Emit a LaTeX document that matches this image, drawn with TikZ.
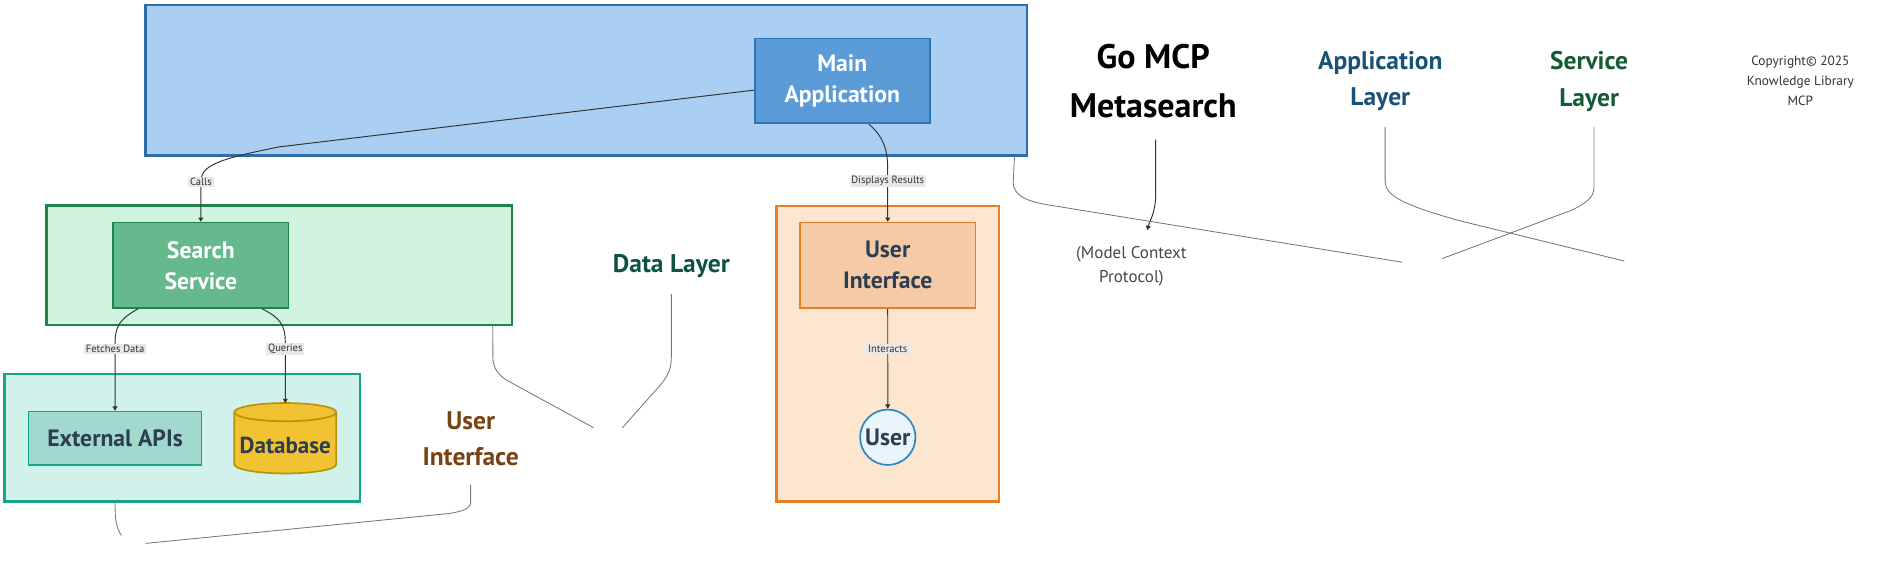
\documentclass[tikz,border=0pt]{standalone}
\usepackage{fontspec}
\setmainfont{PT Sans}
\usetikzlibrary{arrows.meta}

\definecolor{appfill}{HTML}{AACFF3}
\definecolor{appline}{HTML}{2E6DA8}
\definecolor{mainfill}{HTML}{5B9BD8}
\definecolor{mainline}{HTML}{2E75B6}
\definecolor{srvfill}{HTML}{D2F3E0}
\definecolor{srvline}{HTML}{1E8449}
\definecolor{srvnode}{HTML}{66B98C}
\definecolor{datfill}{HTML}{D1F2EB}
\definecolor{datline}{HTML}{17A589}
\definecolor{extfill}{HTML}{A2D9CE}
\definecolor{dbfill}{HTML}{F1C232}
\definecolor{dbline}{HTML}{B7950B}
\definecolor{uifill}{HTML}{FCE6CF}
\definecolor{uiline}{HTML}{E67E22}
\definecolor{uinode}{HTML}{F5CBA7}
\definecolor{userfill}{HTML}{EAF4FC}
\definecolor{userline}{HTML}{2E86C1}
\definecolor{darktext}{HTML}{2C3E50}
\definecolor{applabel}{HTML}{1A5276}
\definecolor{srvlabel}{HTML}{145A32}
\definecolor{datlabel}{HTML}{0B5345}
\definecolor{uilabel}{HTML}{784212}
\definecolor{edgeline}{HTML}{333333}
\definecolor{ghostline}{HTML}{777777}
\definecolor{labelbg}{HTML}{E8E8E8}

\begin{document}
\begin{tikzpicture}[x=1pt,y=-1pt,
  group/.style={draw, line width=1.9pt, inner sep=0pt},
  block/.style={draw, line width=1.4pt, inner sep=0pt, align=center,
    font=\fontsize{19.5}{25.5}\selectfont\bfseries},
  title/.style={align=center, font=\fontsize{21}{30}\selectfont\bfseries},
  edge/.style={draw=edgeline, line width=0.8pt, -{Triangle[length=3.5pt,width=4pt]}},
  ghost/.style={draw=ghostline, line width=0.7pt},
  elab/.style={fill=labelbg, text=edgeline, inner xsep=1.5pt, inner ysep=1pt,
    font=\fontsize{8.7}{10}\selectfont}]
\useasboundingbox (0,0) rectangle (1568.4,464.6);

% subgraph boxes
\node[group, fill=appfill, draw=appline, minimum width=726pt, minimum height=124pt] (app) at (482.75,66.15) {};
\node[group, fill=srvfill, draw=srvline, minimum width=383.4pt, minimum height=98.3pt] (srv) at (229.9,218.55) {};
\node[group, fill=datfill, draw=datline, minimum width=292.7pt, minimum height=105pt] (dat) at (150.15,360.5) {};
\node[group, fill=uifill, draw=uiline, minimum width=183.5pt, minimum height=243.3pt] (uibox) at (731.25,291.35) {};

% nodes
\node[block, fill=mainfill, draw=mainline, text=white, minimum width=144pt, minimum height=70pt] (main) at (693.8,66.6) {Main\\Application};
\node[block, fill=srvnode, draw=srvline, text=white, minimum width=144.5pt, minimum height=70.3pt] (search) at (165.45,218.55) {Search\\Service};
\node[block, fill=extfill, draw=datline, text=darktext, minimum width=142.5pt, minimum height=44pt] (ext) at (94.75,361) {External APIs};
\node[block, fill=uinode, draw=uiline, text=darktext, minimum width=144.5pt, minimum height=70.3pt] (ui) at (731.25,218.55) {User\\Interface};
\node[block, circle, fill=userfill, draw=userline, text=darktext, minimum size=45.6pt] (user) at (731.3,360.2) {User};

% database
\draw[fill=dbfill, draw=dbline, line width=1.4pt] (193,339.5) -- (193,382.5) arc[start angle=180, end angle=0, x radius=42, y radius=7.5] -- (277,339.5) arc[start angle=0, end angle=-180, x radius=42, y radius=7.5] -- cycle;
\draw[draw=dbline, line width=1.4pt] (193,339.5) arc[start angle=180, end angle=0, x radius=42, y radius=7.5];
\node[font=\fontsize{19}{24}\selectfont\bfseries, text=darktext] (db) at (235,366.6) {Database};
\coordinate (dbtop) at (235,332);

% titles
\node[title, font=\fontsize{28}{39.8}\selectfont\bfseries] (gomcp) at (950,66.8) {Go MCP\\Metasearch};
\node[title, text=applabel] (applayer) at (1137,67) {Application\\Layer};
\node[title, text=srvlabel] (srvlayer) at (1309,67) {Service\\Layer};
\node[title, text=datlabel] (datlayer) at (553,219) {Data Layer};
\node[title, text=uilabel, font=\fontsize{21}{29.4}\selectfont\bfseries] (uilayer) at (387.7,361.5) {User\\Interface};
\node[align=center, text=edgeline, font=\fontsize{11}{16.6}\selectfont] (copy) at (1483,66.6) {Copyright© 2025\\Knowledge Library\\MCP};
\node[align=center, text=edgeline!90, font=\fontsize{14}{19.8}\selectfont] (mcp) at (932,219) {(Model Context\\Protocol)};

% loose ends
\coordinate (append) at (1155,216);
\coordinate (gomcptop) at (952,115);
\coordinate (mcpend) at (945,189.5);
\coordinate (applaytop) at (1141,104.5);
\coordinate (applayend) at (1338,215);
\coordinate (srvlaytop) at (1313,104.5);
\coordinate (srvlayend) at (1188,213);
\coordinate (srvend) at (489,352.3);
\coordinate (datlaytop) at (553,242.2);
\coordinate (datlayend) at (512.7,352.3);
\coordinate (datend) at (100,441);
\coordinate (uilaytop) at (387.7,399.6);
\coordinate (uilayend) at (120,447.6);

% connectors
\draw[edge] (main.186) -- (230,121) .. controls (180,131) and (165.45,136) .. (165.45,150) -- (search.north);
\draw[edge] ([xshift=22pt]main.south) .. controls (727,112) and (731.25,122) .. (731.25,140) -- (ui.north);
\draw[edge] ([xshift=-51.7pt]search.south) .. controls (100,262) and (94.75,268) .. (94.75,282) -- (ext.north);
\draw[edge] ([xshift=50.5pt]search.south) .. controls (231,262) and (235,268) .. (235,282) -- (dbtop);
\draw[edge] (ui.south) -- (user.north);
\draw[edge] (gomcptop) -- (952,160) .. controls (952,175) and (947,182) .. (mcpend);

\draw[ghost] ([xshift=-11pt]app.south east) -- (834.6,150) .. controls (834.6,163) and (850,167) .. (871,170) -- (append);
\draw[ghost] (applaytop) -- (1141,150) .. controls (1141,162) and (1160,170) .. (1203,182) -- (applayend);
\draw[ghost] (srvlaytop) -- (1313,155) .. controls (1313,163) and (1305,168) .. (1295,173) -- (srvlayend);
\draw[ghost] ([xshift=176pt]srv.south) -- (406,293.8) .. controls (406,303) and (410,308) .. (417,313) -- (srvend);
\draw[ghost] (datlaytop) -- (553,293.8) .. controls (553,303) and (551,308) .. (545,316) -- (datlayend);
\draw[ghost] ([xshift=-55.4pt]dat.south) .. controls (94.75,430) and (96,435) .. (datend);
\draw[ghost] (uilaytop) -- (387.7,413) .. controls (387.7,419) and (382,421) .. (370,423) -- (uilayend);

% edge labels
\node[elab] (lcalls) at (165.45,149.6) {Calls};
\node[elab] (lshow) at (731.25,149) {Displays Results};
\node[elab] (lfetch) at (94.75,287.5) {Fetches Data};
\node[elab] (lquery) at (235,287.5) {Queries};
\node[elab] (lact) at (731.25,287.5) {Interacts};
\end{tikzpicture}
\end{document}
